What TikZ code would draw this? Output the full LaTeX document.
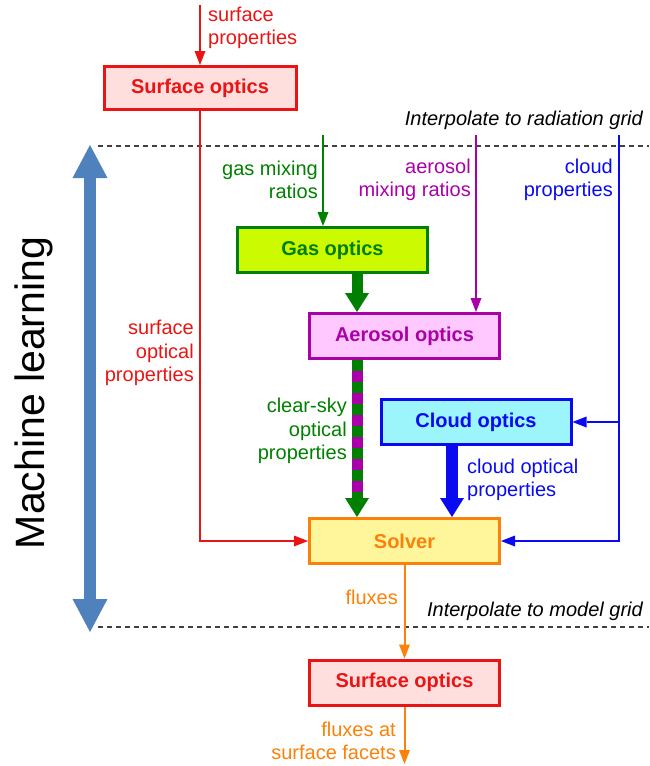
\documentclass[tikz,border=0pt]{standalone}
\usepackage{fontspec}
\setmainfont{Liberation Sans}
\usepackage{xcolor}
\definecolor{rtRed}{RGB}{235, 20, 20}
\definecolor{rtRedFill}{RGB}{255, 222, 222}
\definecolor{rtGreen}{RGB}{0, 128, 0}
\definecolor{rtGasFill}{RGB}{204, 250, 0}
\definecolor{rtMagenta}{RGB}{170, 0, 170}
\definecolor{rtAeroFill}{RGB}{255, 200, 255}
\definecolor{rtBlue}{RGB}{10, 10, 240}
\definecolor{rtCloudFill}{RGB}{155, 245, 250}
\definecolor{rtOrange}{RGB}{250, 130, 10}
\definecolor{rtSolverFill}{RGB}{255, 245, 155}
\definecolor{rtML}{RGB}{79, 129, 189}
\usepackage{tikz}
\usetikzlibrary{
    arrows.meta,
    positioning,
    calc
}

\begin{document}
\begin{tikzpicture}[
    x=1pt, y=-1pt,
    rtBox/.style={
        rectangle, line width=3pt,
        minimum width=190pt, minimum height=45pt, inner sep=0pt,
        font=\fontsize{20}{24}\selectfont\bfseries
    },
    rtLabel/.style={
        font=\fontsize{20}{23.5}\selectfont, inner sep=0pt
    },
    rtNote/.style={
        font=\fontsize{20}{24}\selectfont\itshape, anchor=east, inner sep=0pt
    },
    rtFlow/.style={
        -{Triangle[width=11pt, length=14pt, line width=0pt]}, line width=2pt
    },
    rtThick/.style={
        -{Triangle[width=24pt, length=19pt, line width=0pt]}, line width=11pt
    },
    rtGrid/.style={
        dash pattern=on 5pt off 4pt, line width=1.2pt, draw=black!75
    }
]

    \useasboundingbox (0,0) rectangle (649,766);

    % Grid lines
    \coordinate (gridRadL) at (98,146);
    \coordinate (gridRadR) at (649,146);
    \coordinate (gridModL) at (98,627);
    \coordinate (gridModR) at (649,627);
    \draw[rtGrid] (gridRadL) -- (gridRadR);
    \draw[rtGrid] (gridModL) -- (gridModR);
    \node[rtNote] (noteRad) at (643,120) {Interpolate to radiation grid};
    \node[rtNote] (noteModel) at (643,611) {Interpolate to model grid};

    % Machine learning
    \coordinate (mlTop) at (90,145);
    \coordinate (mlBot) at (90,632);
    \draw[rtML, line width=12pt,
        {Triangle[width=35pt, length=33pt, line width=0pt]}-{Triangle[width=35pt, length=33pt, line width=0pt]}]
        (mlTop) -- (mlBot);
    \node[rotate=90, inner sep=0pt, font=\fontsize{41}{48}\selectfont] (mlText) at (34,393) {Machine learning};

    % Boxes
    \node[rtBox, draw=rtRed, fill=rtRedFill, text=rtRed, minimum width=192pt, minimum height=43pt] (surfTop) at (200,88) {Surface optics};
    \node[rtBox, draw=rtGreen, fill=rtGasFill, text=rtGreen] (gasOpt) at (332.5,250) {Gas optics};
    \node[rtBox, draw=rtMagenta, fill=rtAeroFill, text=rtMagenta] (aeroOpt) at (404.5,336) {Aerosol optics};
    \node[rtBox, draw=rtBlue, fill=rtCloudFill, text=rtBlue] (cloudOpt) at (476,422) {Cloud optics};
    \node[rtBox, draw=rtOrange, fill=rtSolverFill, text=rtOrange] (solver) at (404.5,541) {Solver};
    \node[rtBox, draw=rtRed, fill=rtRedFill, text=rtRed] (surfBot) at (404.5,682.5) {Surface optics};

    % Inputs and outputs
    \coordinate (sfcIn) at (200,5);
    \coordinate (gasIn) at (323,135);
    \coordinate (aeroIn) at (476,135);
    \coordinate (cloudIn) at (619,135);
    \coordinate (fluxOut) at (404.5,764);
    \coordinate (skyX) at (357,0);
    \coordinate (cldX) at (452,0);

    % Flows
    \draw[rtFlow, rtRed] (sfcIn) -- (surfTop);
    \draw[rtFlow, rtRed] (surfTop) |- (solver);
    \draw[rtFlow, rtGreen] (gasIn) -- (gasIn |- gasOpt.north);
    \draw[rtFlow, rtMagenta] (aeroIn) -- (aeroIn |- aeroOpt.north);
    \draw[rtFlow, rtBlue] (cloudIn) |- (solver);
    \draw[rtFlow, rtBlue] (cloudIn |- cloudOpt.east) -- (cloudOpt);
    \draw[rtFlow, rtOrange] (solver) -- (surfBot);
    \draw[rtFlow, rtOrange] (surfBot) -- (fluxOut);

    \draw[rtThick, rtGreen] (skyX |- gasOpt.south) -- (skyX |- aeroOpt.north);
    \draw[rtThick, rtGreen] (skyX |- aeroOpt.south) -- (skyX |- solver.north);
    \draw[rtMagenta, line width=11pt, dash pattern=on 11pt off 11pt, dash phase=11pt]
        (skyX |- aeroOpt.south) -- ($(skyX |- solver.north)+(0,-19)$);
    \draw[rtThick, line width=12pt, rtBlue] (cldX |- cloudOpt.south) -- (cldX |- solver.north);

    % Labels
    \node[rtLabel, text=rtRed, anchor=west, align=left] (lblSfcIn) at (208,28) {surface\\properties};
    \node[rtLabel, text=rtRed, anchor=east, align=right] (lblSfcOpt) at (194,353) {surface\\optical\\properties};
    \node[rtLabel, text=rtGreen, anchor=east, align=right] (lblGas) at (318,180) {gas mixing\\ratios};
    \node[rtLabel, text=rtMagenta, anchor=east, align=right] (lblAero) at (471,180) {aerosol\\mixing ratios};
    \node[rtLabel, text=rtBlue, anchor=east, align=right] (lblCloud) at (613,180) {cloud\\properties};
    \node[rtLabel, text=rtGreen, anchor=east, align=right] (lblSky) at (347,431) {clear-sky\\optical\\properties};
    \node[rtLabel, text=rtBlue, anchor=west, align=left] (lblCldOpt) at (467,480) {cloud optical\\properties};
    \node[rtLabel, text=rtOrange, anchor=east] (lblFlux) at (398,597) {fluxes};
    \node[rtLabel, text=rtOrange, anchor=east, align=right] (lblFluxSfc) at (396,741) {fluxes at\\surface facets};

\end{tikzpicture}
\end{document}
